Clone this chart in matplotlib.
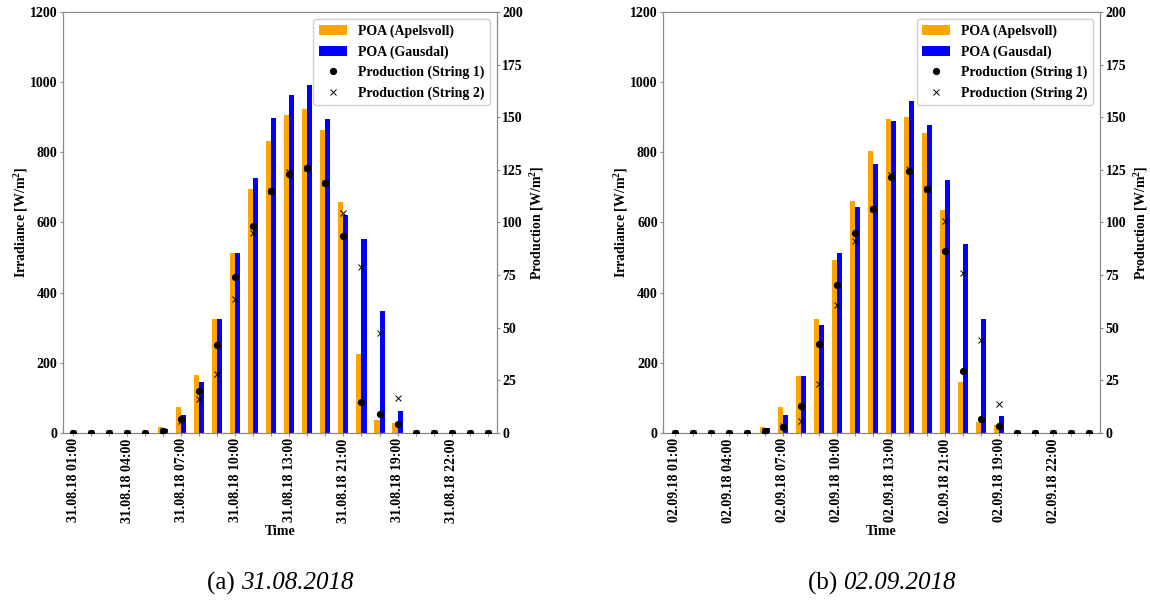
import matplotlib
matplotlib.use("Agg")
import matplotlib.pyplot as plt
import numpy as np

plt.rcParams['font.family'] = ['Liberation Serif', 'DejaVu Serif']
plt.rcParams['font.weight'] = 'bold'
plt.rcParams['mathtext.default'] = 'regular'

hours = list(range(24))

# 31.08.2018
labels_a = ["31.08.18 01:00", "31.08.18 04:00", "31.08.18 07:00", "31.08.18 10:00",
            "31.08.18 13:00", "31.08.18 21:00", "31.08.18 19:00", "31.08.18 22:00"]
poa_apelsvoll_a = [0, 0, 0, 0, 0, 17, 72, 165, 325, 514, 696, 832, 906, 924, 864, 658, 225, 36, 29, 0, 0, 0, 0, 0]
poa_gausdal_a = [0, 0, 0, 0, 0, 10, 50, 144, 325, 514, 726, 897, 964, 992, 895, 622, 552, 347, 62, 0, 0, 0, 0, 0]
prod_s1_a = [0, 0, 0, 0, 0, 0.8, 6.3, 19.7, 41.9, 74, 98.4, 115, 123, 126, 119, 93.5, 14.8, 8.7, 4.3, 0, 0, 0, 0, 0]
prod_s2_a = [0, 0, 0, 0, 0, 0.8, 5.5, 15.9, 28, 63.5, 95, 115, 124, 126, 119, 104.6, 78.6, 47.6, 16.5, 0, 0, 0, 0, 0]

# 02.09.2018
labels_b = ["02.09.18 01:00", "02.09.18 04:00", "02.09.18 07:00", "02.09.18 10:00",
            "02.09.18 13:00", "02.09.18 21:00", "02.09.18 19:00", "02.09.18 22:00"]
poa_apelsvoll_b = [0, 0, 0, 0, 0, 17, 72, 161, 325, 493, 661, 804, 895, 901, 855, 636, 146, 30, 22, 0, 0, 0, 0, 0]
poa_gausdal_b = [0, 0, 0, 0, 0, 12, 50, 162, 306, 512, 643, 768, 891, 946, 878, 722, 538, 325, 48, 0, 0, 0, 0, 0]
prod_s1_b = [0, 0, 0, 0, 0, 0.8, 2.9, 12.5, 42.2, 70.3, 95.2, 106.6, 121.6, 124.6, 116, 86.5, 29.5, 6.7, 3.0, 0, 0, 0, 0, 0]
prod_s2_b = [0, 0, 0, 0, 0, 0.8, 3.0, 5.4, 23.2, 60.6, 91, 106.6, 122.4, 125.4, 116, 100.6, 76, 44.3, 13.8, 0, 0, 0, 0, 0]

captions = [("(a) ", "31.08.2018"), ("(b) ", "02.09.2018")]

W, H = 1150, 603
fig = plt.figure(figsize=(W / 100, H / 100), dpi=100)

spine_col = '#8a8a8a'
bw = 0.28

def panel(rect, xl, labels, apel, gaus, s1, s2, cap):
    ax = fig.add_axes(rect)
    x = np.array(hours)
    ax.bar(x - bw / 2, apel, width=bw, color='#FFA500', label='POA (Apelsvoll)', zorder=2)
    ax.bar(x + bw / 2, gaus, width=bw, color='#0000FF', label='POA (Gausdal)', zorder=2)
    ax.set_ylim(0, 1200)
    ax.set_yticks(range(0, 1201, 200))
    ax.set_xlim(*xl)
    ax.set_xticks(hours)
    ticklabels = [''] * 24
    for k, lab in enumerate(labels):
        ticklabels[3 * k] = lab
    ax.set_xticklabels(ticklabels, rotation=90, fontsize=10, fontweight='bold')
    ax.set_ylabel('Irradiance [W/m$^2$]', fontsize=10, fontweight='bold', labelpad=0)
    ax.set_xlabel('Time', fontsize=10, fontweight='bold', labelpad=2)
    ax2 = ax.twinx()
    ax2.plot(x, s1, linestyle='none', marker='o', markersize=4.2, color='black', label='Production (String 1)', zorder=3)
    ax2.plot(x, s2, linestyle='none', marker='x', markersize=3.8, markeredgewidth=0.7, color='black', label='Production (String 2)', zorder=3)
    ax2.set_ylim(0, 200)
    ax2.set_yticks(range(0, 201, 25))
    ax2.set_xlim(*xl)
    ax2.set_ylabel('Production [W/m$^2$]', fontsize=10, fontweight='bold', labelpad=4)
    for a in (ax, ax2):
        for s in a.spines.values():
            s.set_color(spine_col)
            s.set_linewidth(0.8)
        a.tick_params(axis='both', colors=spine_col, labelcolor='black', labelsize=10, length=2.5, width=0.8, pad=1.5)
        for t in a.get_yticklabels():
            t.set_fontweight('bold')
    h1, l1 = ax.get_legend_handles_labels()
    h2, l2 = ax2.get_legend_handles_labels()
    ax2.legend(h1 + h2, l1 + l2, loc='upper right', prop={'weight': 'bold', 'size': 10},
               framealpha=0.9, borderaxespad=0.5, handlelength=2.0, handletextpad=0.8)
    cx = rect[0] + rect[2] / 2
    t = fig.text(cx, 1 - 583 / H, cap[0] + cap[1], fontsize=18, ha='center', va='center', fontweight='normal', alpha=0)
    fig.canvas.draw()
    r = fig.canvas.get_renderer()
    bb = t.get_window_extent(r)
    x0 = bb.x0 / W
    t1 = fig.text(x0, 1 - 583 / H, cap[0], fontsize=18, ha='left', va='center', fontweight='normal')
    bb1 = t1.get_window_extent(r)
    fig.text(bb1.x1 / W, 1 - 583 / H, cap[1], fontsize=18, ha='left', va='center', fontweight='normal', style='italic')

bottom = 1 - 432.7 / H
height = (432.7 - 12.3) / H
panel([63 / W, bottom, (496.7 - 63) / W, height], (-0.555, 23.5), labels_a,
      poa_apelsvoll_a, poa_gausdal_a, prod_s1_a, prod_s2_a, captions[0])
panel([663.3 / W, bottom, (1100 - 663.3) / W, height], (-0.63, 23.6), labels_b,
      poa_apelsvoll_b, poa_gausdal_b, prod_s1_b, prod_s2_b, captions[1])

fig.savefig('out.png', dpi=100)
